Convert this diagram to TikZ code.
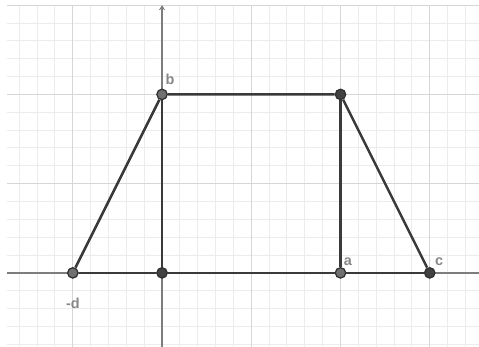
\documentclass[tikz,border=0pt]{standalone}
\usepackage{fontspec}
\setsansfont{Liberation Sans}
\usetikzlibrary{arrows.meta}
\definecolor{gridminor}{RGB}{236,236,236}
\definecolor{gridmajor}{RGB}{214,214,214}
\definecolor{axisgray}{RGB}{125,125,125}
\definecolor{segdark}{RGB}{58,58,58}
\definecolor{ptlight}{RGB}{112,112,112}
\definecolor{ptdark}{RGB}{66,66,66}
\definecolor{ptring}{RGB}{48,48,48}
\definecolor{lblgray}{RGB}{135,135,135}
\tikzset{
  seg/.style={segdark, line width=2pt},
  axisline/.style={axisgray, line width=1.2pt},
  ptl/.style={circle, draw=ptring, fill=ptlight, line width=1pt, inner sep=0pt, minimum size=8.3pt},
  ptd/.style={ptl, fill=ptdark},
  lbl/.style={font=\sffamily\bfseries\fontsize{11.5}{11.5}\selectfont, text=lblgray, inner sep=0pt},
}
\begin{document}
\begin{tikzpicture}[x=0.5cm,y=0.5cm]
\useasboundingbox (-9.08,-4.15) rectangle (17.76,15.29);
% grid
\foreach \i in {-8,...,17} {\draw[gridminor, line width=0.8pt] (\i,-4.15) -- (\i,15);}
\foreach \j in {-4,...,14} {\draw[gridminor, line width=0.8pt] (-8.68,\j) -- (17.76,\j);}
\foreach \i in {-5,5,10,15} {\draw[gridmajor, line width=1pt] (\i,-4.15) -- (\i,15);}
\foreach \j in {5,10,15} {\draw[gridmajor, line width=1pt] (-8.68,\j) -- (17.76,\j);}
% axes
\draw[axisline] (-8.68,0) -- (17.76,0);
\draw[axisline, -{Stealth[length=4pt,width=5pt]}] (0,-4.15) -- (0,15);
% points
\node[ptl] (d) at (-5,0) {};
\node[ptd] (o) at (0,0) {};
\node[ptl] (a) at (10,0) {};
\node[ptd] (c) at (15,0) {};
\node[ptl] (b) at (0,10) {};
\node[ptd] (e) at (10,10) {};
% sides
\draw[seg] (d) -- (o) -- (a) -- (c);
\draw[seg] (d) -- (b) -- (e) -- (c);
\draw[seg] (o) -- (b);
\draw[seg] (a) -- (e);
% labels
\node[lbl] (lb) at ([shift={(0.45,0.84)}]b) {b};
\node[lbl] (la) at ([shift={(0.42,0.64)}]a) {a};
\node[lbl] (lc) at ([shift={(0.53,0.64)}]c) {c};
\node[lbl] (ld) at ([shift={(0,-1.68)}]d) {-d};
\end{tikzpicture}
\end{document}
